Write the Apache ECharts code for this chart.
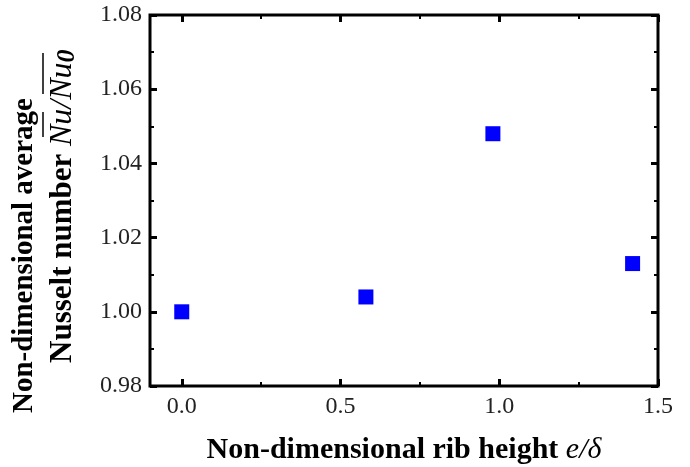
<!DOCTYPE html>
<html>
<head>
<meta charset="utf-8">
<script src="https://cdn.jsdelivr.net/npm/echarts@6/dist/echarts.min.js"></script>
<style>html,body{margin:0;padding:0;background:#fff}#c{width:690px;height:467px}</style>
</head>
<body>
<div id="c"></div>
<script>
const ribHeight = [0.0, 0.58, 0.98, 1.42];
const nusseltRatio = [1.000, 1.004, 1.048, 1.013];
const xMajorTicks = [0.0, 0.5, 1.0, 1.5];
const xMinorTicks = [0.25, 0.75, 1.25];
const yTickLabels = ['0.98', '1.00', '1.02', '1.04', '1.06', '1.08'];

const serif = 'Liberation Serif';
const chart = echarts.init(document.getElementById('c'));
const xBase = {
  type: 'value', min: -0.1, max: 1.5, gridIndex: 0,
  axisLine: {show: false, onZero: false}, splitLine: {show: false}
};
const majorTick = {show: true, inside: true, length: 7, customValues: xMajorTicks, lineStyle: {color: '#000', width: 3}};
const minorTickX = {show: true, inside: true, length: 4, customValues: xMinorTicks, lineStyle: {color: '#000', width: 2}};
const yBase = {
  type: 'value', min: 0.98, max: 1.08, interval: 0.02,
  axisLine: {show: false, onZero: false}, splitLine: {show: false},
  axisTick: {show: true, inside: true, length: 7, lineStyle: {color: '#000', width: 3}},
  minorTick: {show: true, splitNumber: 2, length: 4, lineStyle: {color: '#000', width: 2}}
};
chart.setOption({
  animation: false,
  grid: {left: 150, right: 32, top: 15, bottom: 81, containLabel: false, outerBoundsMode: 'none',
         show: true, borderWidth: 3, borderColor: '#000', backgroundColor: 'transparent'},
  xAxis: [
    Object.assign({}, xBase, {
      position: 'bottom',
      axisTick: majorTick,
      axisLabel: {customValues: xMajorTicks, formatter: v => v.toFixed(1), fontFamily: serif, fontSize: 24, color: '#222', margin: 9},
      name: '{b|Non-dimensional rib height }{i|e/δ}',
      nameLocation: 'middle', nameGap: 49,
      nameTextStyle: {rich: {
        b: {fontFamily: serif, fontWeight: 'bold', fontSize: 30, color: '#000'},
        i: {fontFamily: serif, fontStyle: 'italic', fontSize: 30, color: '#000'}
      }}
    }),
    Object.assign({}, xBase, {position: 'top', axisTick: majorTick, axisLabel: {show: false}}),
    Object.assign({}, xBase, {position: 'bottom', axisTick: minorTickX, axisLabel: {show: false}}),
    Object.assign({}, xBase, {position: 'top', axisTick: minorTickX, axisLabel: {show: false}})
  ],
  yAxis: [
    Object.assign({}, yBase, {
      position: 'left',
      axisLabel: {formatter: v => { const s = v.toFixed(2); return yTickLabels.includes(s) ? s : ''; }, fontFamily: serif, fontSize: 24, color: '#222', margin: 8}
    }),
    Object.assign({}, yBase, {position: 'right', axisLabel: {show: false}})
  ],
  series: [{
    type: 'scatter', xAxisIndex: 0, yAxisIndex: 0,
    symbol: 'rect', symbolSize: 15,
    itemStyle: {color: '#0000ff', opacity: 1},
    data: ribHeight.map((x, i) => [x, nusseltRatio[i]])
  }],
  graphic: [
    {type: 'text', x: 25, y: 413, rotation: Math.PI / 2,
     style: {text: 'Non-dimensional average', font: 'bold 29px "Liberation Serif"', fill: '#000', textAlign: 'left', textVerticalAlign: 'middle'}},
    {type: 'text', x: 63, y: 363, rotation: Math.PI / 2,
     style: {text: '{b|Nusselt number }{i|Nu/Nu}{s|0}', textAlign: 'left', textVerticalAlign: 'middle',
       rich: {
         b: {font: 'bold 31px "Liberation Serif"', fill: '#000'},
         i: {font: 'italic 32px "Liberation Serif"', fill: '#000'},
         s: {font: 'italic bold 26px "Liberation Serif"', fill: '#000', padding: [8, 0, 0, 0]}
       }}},
    {type: 'line', shape: {x1: 43, y1: 137, x2: 43, y2: 112}, style: {stroke: '#000', lineWidth: 1.5}},
    {type: 'line', shape: {x1: 43, y1: 94, x2: 43, y2: 53}, style: {stroke: '#000', lineWidth: 1.5}}
  ]
});
</script>
</body>
</html>
